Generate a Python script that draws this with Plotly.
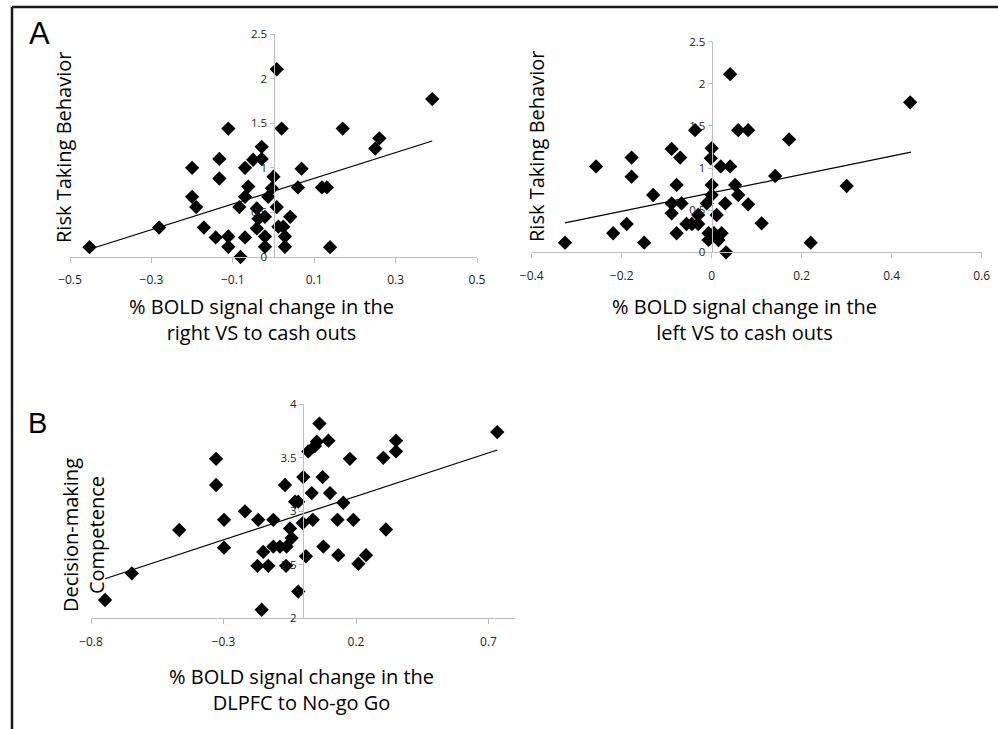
import plotly.graph_objects as go

# ---------------- data ----------------
# Panel A (left): right VS to cash outs vs risk taking
a_left_x = [-0.452, -0.281, -0.20, -0.20, -0.19, -0.171, -0.142, -0.133, -0.133, -0.111,
            -0.111, -0.111, -0.081, -0.07, -0.07, -0.084, -0.07, -0.062, -0.05, -0.029,
            -0.029, -0.041, -0.037, -0.041, -0.021, -0.021, -0.021, -0.013, -0.004, 0.0,
            0.008, 0.008, 0.02, 0.012, 0.024, 0.028, 0.028, 0.041, 0.06, 0.069,
            0.119, 0.131, 0.139, 0.17, 0.25, 0.26, 0.39]
a_left_y = [0.11, 0.33, 1.0, 0.675, 0.56, 0.33, 0.22, 1.10, 0.88, 1.44,
            0.23, 0.115, 0.0, 1.0, 0.22, 0.56, 0.675, 0.79, 1.09, 1.10,
            1.235, 0.545, 0.43, 0.32, 0.45, 0.23, 0.115, 0.675, 0.77, 0.90,
            0.56, 2.105, 1.44, 0.34, 0.34, 0.23, 0.115, 0.45, 0.78, 0.99,
            0.78, 0.78, 0.11, 1.44, 1.215, 1.33, 1.77]
a_left_trend_x = [-0.45, 0.39]
a_left_trend_y = [0.09, 1.30]

# Panel A (right): left VS to cash outs vs risk taking
a_right_x = [-0.326, -0.257, -0.219, -0.189, -0.178, -0.178, -0.150, -0.130, -0.089, -0.078,
             -0.089, -0.089, -0.078, -0.070, -0.067, -0.056, -0.044, -0.037, -0.030, -0.030,
             -0.011, 0.0, -0.002, 0.0, 0.0, -0.007, -0.007, 0.011, 0.005, 0.015,
             0.022, 0.020, 0.030, 0.032, 0.041, 0.041, 0.052, 0.059, 0.059, 0.081,
             0.081, 0.111, 0.141, 0.172, 0.22, 0.30, 0.441]
a_right_y = [0.114, 1.02, 0.226, 0.336, 1.124, 0.898, 0.114, 0.68, 1.227, 0.80,
             0.463, 0.58, 0.226, 1.124, 0.58, 0.336, 0.336, 1.45, 0.443, 0.336,
             0.58, 1.235, 1.116, 0.80, 0.68, 0.226, 0.147, 0.443, 0.226, 0.146,
             0.226, 1.02, 0.58, 0.0, 2.114, 1.02, 0.80, 0.68, 1.45, 1.45,
             0.57, 0.344, 0.906, 1.34, 0.114, 0.787, 1.78]
a_right_trend_x = [-0.326, 0.443]
a_right_trend_y = [0.35, 1.19]

# Panel B: DLPFC to No-go Go vs decision-making competence
b_x = [-0.747, -0.646, -0.467, -0.328, -0.328, -0.298, -0.298, -0.219, -0.169, -0.172,
       -0.15, -0.156, -0.131, -0.112, -0.112, -0.087, -0.064, -0.068, -0.062, -0.049,
       -0.043, -0.030, -0.018, -0.018, 0.001, -0.001, 0.011, 0.02, 0.033, 0.037,
       0.045, 0.062, 0.052, 0.074, 0.096, 0.077, 0.102, 0.13, 0.133, 0.152,
       0.177, 0.19, 0.209, 0.238, 0.303, 0.313, 0.351, 0.351, 0.733]
b_y = [2.171, 2.42, 2.825, 3.49, 3.246, 2.92, 2.66, 3.0, 2.92, 2.49,
       2.62, 2.08, 2.49, 2.92, 2.67, 2.67, 2.49, 3.246, 2.67, 2.84,
       2.75, 3.09, 3.09, 2.25, 3.32, 2.89, 2.58, 3.56, 3.17, 2.92,
       3.61, 3.82, 3.65, 3.32, 3.66, 2.67, 3.17, 2.92, 2.59, 3.08,
       3.49, 2.92, 2.51, 2.59, 3.50, 2.83, 3.56, 3.66, 3.74]
b_trend_x = [-0.747, 0.733]
b_trend_y = [2.37, 3.573]

a_left_xticks = [-0.5, -0.3, -0.1, 0.1, 0.3, 0.5]
a_right_xticks = [-0.4, -0.2, 0, 0.2, 0.4, 0.6]
b_xticks = [-0.8, -0.3, 0.2, 0.7]
a_yticks = [0, 0.5, 1, 1.5, 2, 2.5]
b_yticks = [2, 2.5, 3, 3.5, 4]

a_left_xrange = [-0.5, 0.5]
a_right_xrange = [-0.4, 0.6]
b_xrange = [-0.8, 0.8]
a_yrange = [0, 2.5]
b_yrange = [2, 4]

# ---------------- layout helpers ----------------
W, H = 998, 729
FONT = "Open Sans"
AXC = "#bfbfbf"


def px_x(x):
    return x / W


def px_y(y):
    return 1 - y / H


fig = go.Figure()

marker = dict(symbol="diamond", size=11, color="black", line=dict(width=0))

panels = [
    ("x", "y", a_left_x, a_left_y, a_left_trend_x, a_left_trend_y),
    ("x2", "y2", a_right_x, a_right_y, a_right_trend_x, a_right_trend_y),
    ("x3", "y3", b_x, b_y, b_trend_x, b_trend_y),
]
for xa, ya, xs, ys, tx, ty in panels:
    fig.add_trace(go.Scatter(x=tx, y=ty, mode="lines", xaxis=xa, yaxis=ya,
                             line=dict(color="black", width=1.2), showlegend=False,
                             hoverinfo="skip"))
    fig.add_trace(go.Scatter(x=xs, y=ys, mode="markers", xaxis=xa, yaxis=ya,
                             marker=marker, showlegend=False, cliponaxis=False))

# domains (pixel-based)
dom = {
    "a_left": ([px_x(70), px_x(477)], [px_y(257), px_y(34)]),
    "a_right": ([px_x(531.7), px_x(981.7)], [px_y(252.3), px_y(41.7)]),
    "b": ([px_x(91), px_x(515)], [px_y(618.3), px_y(404.3)]),
}


def yaxis_pos(xdom, xr):
    return xdom[0] + (0 - xr[0]) / (xr[1] - xr[0]) * (xdom[1] - xdom[0])


common_x = dict(showgrid=False, zeroline=False, showline=True, linecolor=AXC, linewidth=1,
                ticks="outside", ticklen=5, tickcolor=AXC, tickfont=dict(family=FONT, size=12, color="#222"),
                ticklabelstandoff=7, automargin=False)
common_y = dict(showgrid=False, zeroline=False, showline=True, linecolor=AXC, linewidth=1,
                ticks="outside", ticklen=4, tickcolor=AXC, tickfont=dict(family=FONT, size=11.5, color="#222"),
                anchor="free", automargin=False)

fig.update_layout(
    width=W, height=H, margin=dict(l=0, r=0, t=0, b=0, pad=0), autosize=False,
    paper_bgcolor="white", plot_bgcolor="white",
    xaxis=dict(domain=dom["a_left"][0], range=a_left_xrange, tickvals=a_left_xticks, anchor="y", **common_x),
    yaxis=dict(domain=dom["a_left"][1], range=a_yrange, tickvals=a_yticks,
               position=yaxis_pos(dom["a_left"][0], a_left_xrange), **common_y),
    xaxis2=dict(domain=dom["a_right"][0], range=a_right_xrange, tickvals=a_right_xticks, anchor="y2", **common_x),
    yaxis2=dict(domain=dom["a_right"][1], range=a_yrange, tickvals=a_yticks,
                position=yaxis_pos(dom["a_right"][0], a_right_xrange), **common_y),
    xaxis3=dict(domain=dom["b"][0], range=b_xrange, tickvals=b_xticks, anchor="y3", **common_x),
    yaxis3=dict(domain=dom["b"][1], range=b_yrange, tickvals=b_yticks,
                position=yaxis_pos(dom["b"][0], b_xrange), **common_y),
)

TF = dict(family=FONT, size=20, color="black")
ann = [
    dict(text="A", x=px_x(39), y=px_y(33), font=dict(family="Liberation Sans", size=31, color="black")),
    dict(text="B", x=px_x(37), y=px_y(423), font=dict(family="Liberation Sans", size=29, color="black")),
    dict(text="% BOLD signal change in the<br>right VS to cash outs", x=px_x(261), y=px_y(319), font=TF),
    dict(text="% BOLD signal change in the<br>left VS to cash outs", x=px_x(744), y=px_y(320), font=TF),
    dict(text="% BOLD signal change in the<br>DLPFC to No-go Go", x=px_x(301), y=px_y(689), font=TF),
    dict(text="Risk Taking Behavior", x=px_x(64), y=px_y(147), textangle=-90, font=TF),
    dict(text="Risk Taking Behavior", x=px_x(537), y=px_y(147), textangle=-90, font=TF),
    dict(text="Decision-making<br>Competence", x=px_x(83), y=px_y(535), textangle=-90, font=TF),
]
for a in ann:
    fig.add_annotation(xref="paper", yref="paper", showarrow=False, xanchor="center", yanchor="middle", **a)

# figure border (top and left)
fig.add_shape(type="line", xref="paper", yref="paper", x0=px_x(12), x1=1, y0=px_y(7), y1=px_y(7),
              line=dict(color="#1a1a1a", width=2.5))
fig.add_shape(type="line", xref="paper", yref="paper", x0=px_x(12), x1=px_x(12), y0=0, y1=px_y(7),
              line=dict(color="#1a1a1a", width=2.5))

fig.write_html("out.html", config={"displayModeBar": False},
               post_script="document.body.style.margin='0';document.body.style.overflow='hidden';")
